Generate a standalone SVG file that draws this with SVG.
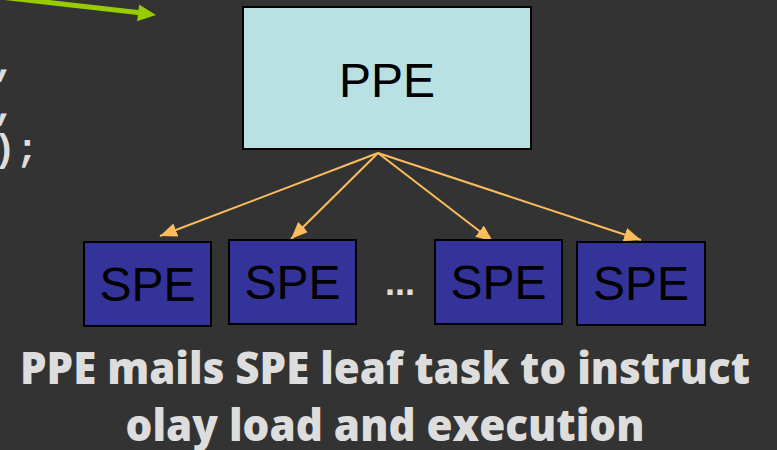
<svg xmlns="http://www.w3.org/2000/svg" width="777" height="450" viewBox="0 0 777 450">
  <style>
    .code { font-family: "Liberation Mono", "DejaVu Sans Mono", monospace; font-weight: bold; font-size: 38px; fill: #dddddd; }
    .ppe rect { fill: #b9e0e3; stroke: #000000; stroke-width: 2; }
    .spe rect { fill: #333399; stroke: #000000; stroke-width: 2; }
    .label { font-family: "Liberation Sans", Arial, sans-serif; font-size: 48px; fill: #000000; text-anchor: middle; }
    .link { stroke: #fbbd5b; stroke-width: 2; fill: none; marker-end: url(#head); }
    .caption { font-family: "Open Sans", "Liberation Sans", sans-serif; font-weight: 800; font-size: 44px; fill: #dddddd; text-anchor: middle; }
  </style>
  <defs>
    <marker id="head" markerUnits="userSpaceOnUse" markerWidth="20" markerHeight="16" refX="17" refY="7" orient="auto">
      <path d="M0,0 L17,7 L0,14 z" fill="#fbbd5b"/>
    </marker>
  </defs>

  <rect width="777" height="450" fill="#333333"/>

  <!-- pointer coming in from the code listing -->
  <g id="pointer">
    <line x1="0" y1="-3" x2="140" y2="12.7" stroke="#99cc00" stroke-width="5"/>
    <polygon points="156,15 139.1,4.5 137.1,21.3" fill="#99cc00"/>
  </g>

  <!-- tail of the code listing, running off the left edge -->
  <g id="code">
    <text class="code" x="-7" y="75">,</text>
    <text class="code" x="-7" y="119">,</text>
    <text class="code" x="-7" y="161">);</text>
  </g>

  <g id="ppe" class="ppe">
    <rect x="243" y="7" width="288" height="142"/>
    <text class="label" x="387" y="97">PPE</text>
  </g>

  <g id="connectors">
    <line class="link" x1="378" y1="153" x2="160" y2="236"/>
    <line class="link" x1="378" y1="153" x2="291" y2="239"/>
    <line class="link" x1="378" y1="153" x2="493" y2="241.5"/>
    <line class="link" x1="378" y1="153" x2="641" y2="240"/>
  </g>

  <g id="spe1" class="spe">
    <rect x="84" y="242" width="127" height="84"/>
    <text class="label" x="147.5" y="301">SPE</text>
  </g>
  <g id="spe2" class="spe">
    <rect x="229" y="240" width="127" height="84"/>
    <text class="label" x="292.5" y="299">SPE</text>
  </g>
  <g id="ellipsis">
    <text x="400" y="295" font-family="Liberation Sans, Arial, sans-serif" font-weight="bold" font-size="36" fill="#dddddd" text-anchor="middle">...</text>
  </g>
  <g id="spe3" class="spe">
    <rect x="435" y="240" width="127" height="84"/>
    <text class="label" x="498.5" y="299">SPE</text>
  </g>
  <g id="spe4" class="spe">
    <rect x="577" y="242" width="128" height="83"/>
    <text class="label" x="641" y="300">SPE</text>
  </g>

  <g id="caption">
    <text class="caption" x="385" y="384" textLength="730" lengthAdjust="spacingAndGlyphs">PPE mails SPE leaf task to instruct</text>
    <text class="caption" x="385" y="441" textLength="519" lengthAdjust="spacingAndGlyphs">olay load and execution</text>
  </g>
</svg>
